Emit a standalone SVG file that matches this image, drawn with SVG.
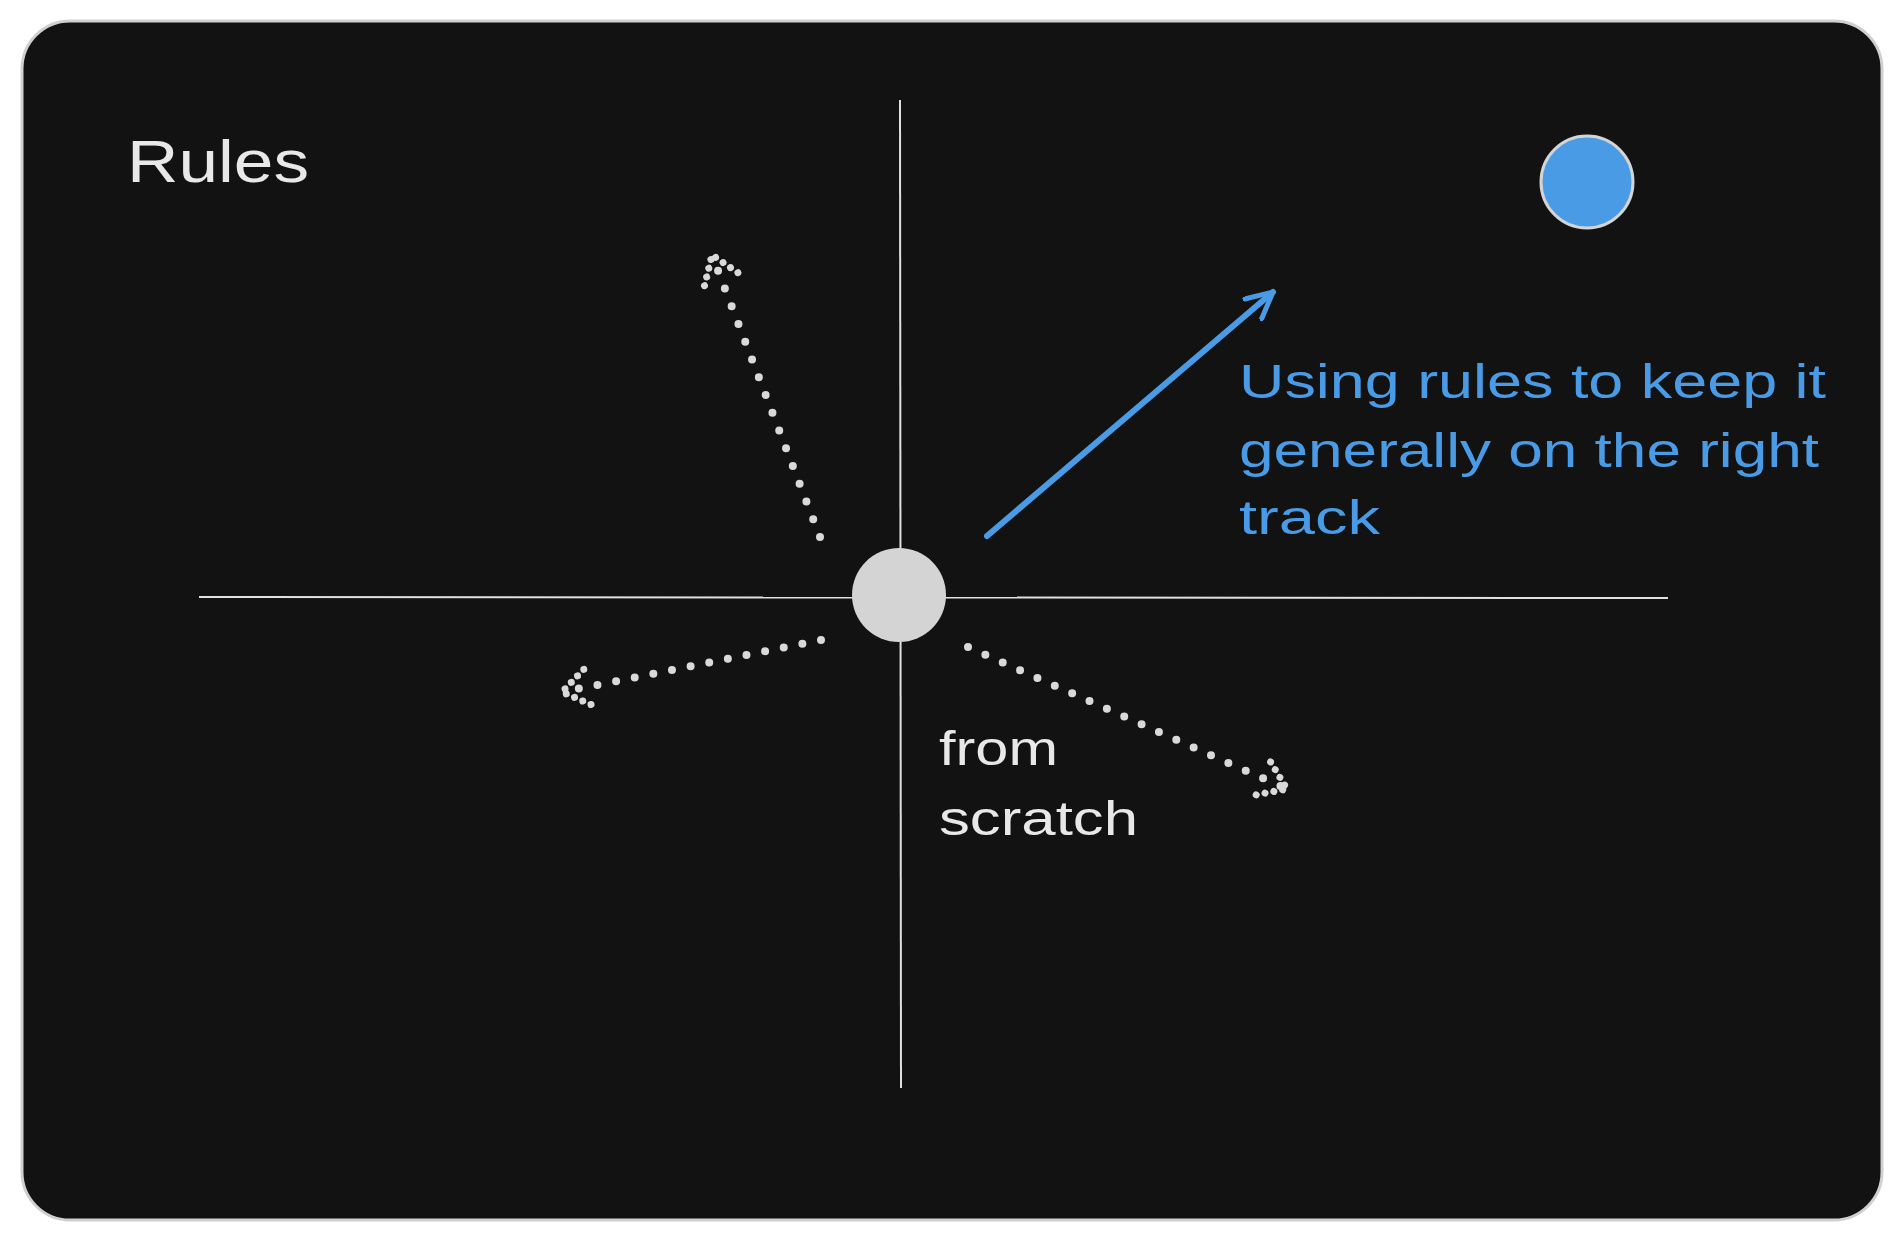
<svg xmlns="http://www.w3.org/2000/svg" width="1904" height="1241" viewBox="0 0 1904 1241">
<defs>
<style>
.t{font-family:"Liberation Sans",sans-serif;}
.w{fill:#e8e8e8;}
.b{fill:#4a9be6;}
.dot{stroke:#d9d9d9;stroke-width:8;stroke-linecap:round;stroke-dasharray:0 19;fill:none;}
</style>
<marker id="dh" viewBox="0 0 40 40" refX="30" refY="20" markerWidth="40" markerHeight="40" markerUnits="userSpaceOnUse" orient="auto" overflow="visible">
<path d="M4,2 L30,20 L4,38" fill="none" stroke="#d9d9d9" stroke-width="7" stroke-linecap="round" stroke-dasharray="0 9"/>
</marker>
<marker id="bh" viewBox="0 0 30 30" refX="28" refY="15" markerWidth="30" markerHeight="30" markerUnits="userSpaceOnUse" orient="auto">
<path d="M2,2 L28,15 L2,28" fill="none" stroke="#4a9be6" stroke-width="5" stroke-linecap="round" stroke-linejoin="round"/>
</marker>
</defs>
<rect width="1904" height="1241" fill="#ffffff"/>
<g id="frame"><rect x="22" y="21" width="1860" height="1199" rx="48" fill="#121212" stroke="#d0d0d0" stroke-width="3"/></g>
<g id="axes">
<line x1="900" y1="100" x2="901" y2="1088" stroke="#e0e0e0" stroke-width="2"/>
<line x1="199" y1="597" x2="1668" y2="598" stroke="#e0e0e0" stroke-width="2"/>
</g>
<g id="center"><circle cx="899" cy="595" r="47" fill="#d4d4d4"/></g>
<g id="goal"><circle cx="1587" cy="182" r="46" fill="#4a9be6" stroke="#d4d4d4" stroke-width="3"/></g>
<g id="title"><text class="t w" x="127" y="182" font-size="60" textLength="182" lengthAdjust="spacingAndGlyphs">Rules</text></g>
<g id="connectors">
<line x1="987" y1="536" x2="1273" y2="292" stroke="#4a9be6" stroke-width="6" stroke-linecap="round" marker-end="url(#bh)"/>
<line class="dot" x1="820" y1="537" x2="712" y2="255" marker-end="url(#dh)"/>
<line class="dot" x1="821" y1="640" x2="562" y2="692" marker-end="url(#dh)"/>
<line class="dot" x1="968" y1="647" x2="1287" y2="789" marker-end="url(#dh)"/>
</g>
<g id="label-blue" class="t b" font-size="48">
<text x="1239" y="398" textLength="587" lengthAdjust="spacingAndGlyphs">Using rules to keep it</text>
<text x="1239" y="467" textLength="580" lengthAdjust="spacingAndGlyphs">generally on the right</text>
<text x="1239" y="534" textLength="141" lengthAdjust="spacingAndGlyphs">track</text>
</g>
<g id="label-scratch" class="t w" font-size="48">
<text x="939" y="765" textLength="119" lengthAdjust="spacingAndGlyphs">from</text>
<text x="939" y="835" textLength="199" lengthAdjust="spacingAndGlyphs">scratch</text>
</g>
</svg>
